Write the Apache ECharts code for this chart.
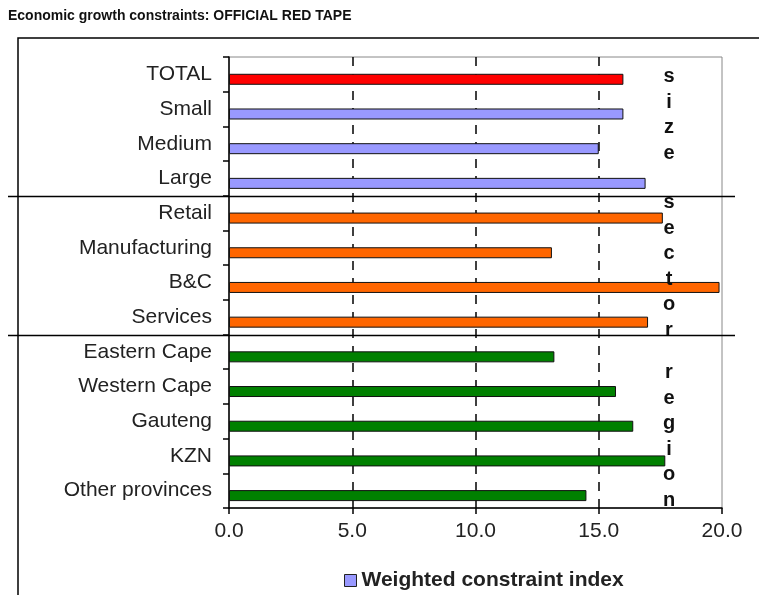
<!DOCTYPE html>
<html><head><meta charset="utf-8">
<script src="https://cdn.jsdelivr.net/npm/echarts@6/dist/echarts.min.js"></script>
<style>html,body{margin:0;padding:0;background:#fff}#c{width:759px;height:595px}</style>
</head><body><div id="c"></div>
<script>
const titleText = 'Economic growth constraints: OFFICIAL RED TAPE';
const seriesName = 'Weighted constraint index';
const categories = ['TOTAL','Small','Medium','Large','Retail','Manufacturing','B&C','Services','Eastern Cape','Western Cape','Gauteng','KZN','Other provinces'];
const values = [16.0,16.0,15.0,16.9,17.6,13.1,19.9,17.0,13.2,15.7,16.4,17.7,14.5];
const groups = ['total','size','size','size','sector','sector','sector','sector','region','region','region','region','region'];
const groupColors = {total:'#ff0000', size:'#9999ff', sector:'#ff6600', region:'#008000'};
const groupWords = ['size','sector','region'];
const xMin = 0, xMax = 20, xInterval = 5;

const chart = echarts.init(document.getElementById('c'), null, {renderer:'canvas'});
const font = '"Liberation Sans", Arial, sans-serif';

const option = {
  animation:false,
  backgroundColor:'#fff',
  textStyle:{fontFamily:font},
  grid:{left:229, right:37, top:57, bottom:87, show:true, borderColor:'#888', borderWidth:1},
  legend:{
    data:[seriesName], left:339, top:565, itemWidth:12, itemHeight:12, icon:'rect',
    textStyle:{fontFamily:font, fontWeight:'bold', fontSize:21, color:'#222'}, itemGap:4,
    itemStyle:{borderColor:'#222', borderWidth:1}
  },
  xAxis:{
    type:'value', min:xMin, max:xMax, interval:xInterval,
    axisLine:{show:true, lineStyle:{color:'#000', width:1.5}},
    axisTick:{show:true, length:6, lineStyle:{color:'#000', width:1.5}},
    axisLabel:{fontFamily:font, fontSize:21, color:'#222', margin:13, formatter:v=>v.toFixed(1)},
    splitLine:{show:true, showMinLine:false, showMaxLine:false, lineStyle:{color:'#000', type:[9,8], width:1.5}}
  },
  yAxis:{
    type:'category', data:categories, inverse:true,
    axisLine:{show:true, lineStyle:{color:'#000', width:1.5}},
    axisTick:{show:true, length:6, lineStyle:{color:'#000', width:1.5}},
    axisLabel:{fontFamily:font, fontSize:21, color:'#222', margin:17, padding:[0,0,6,0]},
    splitLine:{show:false}
  },
  series:[
    {name:'pad', type:'bar', data:categories.map(()=>null), barWidth:11, barGap:'-10%', silent:true},
    {name:seriesName, type:'bar', barWidth:11,
     itemStyle:{color:groupColors.size, borderColor:'#111', borderWidth:1},
     data:values.map((v,i)=>({value:v, itemStyle:{color:groupColors[groups[i]]}}))}
  ]
};
chart.setOption(option);

function build(){
  const px = c => chart.convertToPixel({yAxisIndex:0}, c);
  const els = [];
  els.push({type:'polyline', shape:{points:[[18,600],[18,38],[770,38]]}, style:{stroke:'#000', lineWidth:1.5, fill:null}, z:1});
  els.push({type:'text', left:8, top:9, style:{text:titleText, font:'bold 14px '+font, fill:'#111'}});
  const ranges = [[0,3],[4,7],[8,12]];
  const wordTops = [64, 190, 360];
  ranges.forEach((r,gi)=>{
    if(gi>0){
      const y = Math.round((px(categories[r[0]-1]) + px(categories[r[0]]))/2)+0.5;
      els.push({type:'line', shape:{x1:8,y1:y,x2:735,y2:y}, style:{stroke:'#000', lineWidth:1.5}, z:10});
    }
    const word = groupWords[gi].split('').join('\n');
    els.push({type:'text', x:669, y:wordTops[gi], z:5, style:{text:word, font:'bold 20px '+font, fill:'#111', align:'center', verticalAlign:'top', lineHeight:25.5}});
  });
  chart.setOption({graphic:{elements:els}});
}
build();
</script>
</body></html>
